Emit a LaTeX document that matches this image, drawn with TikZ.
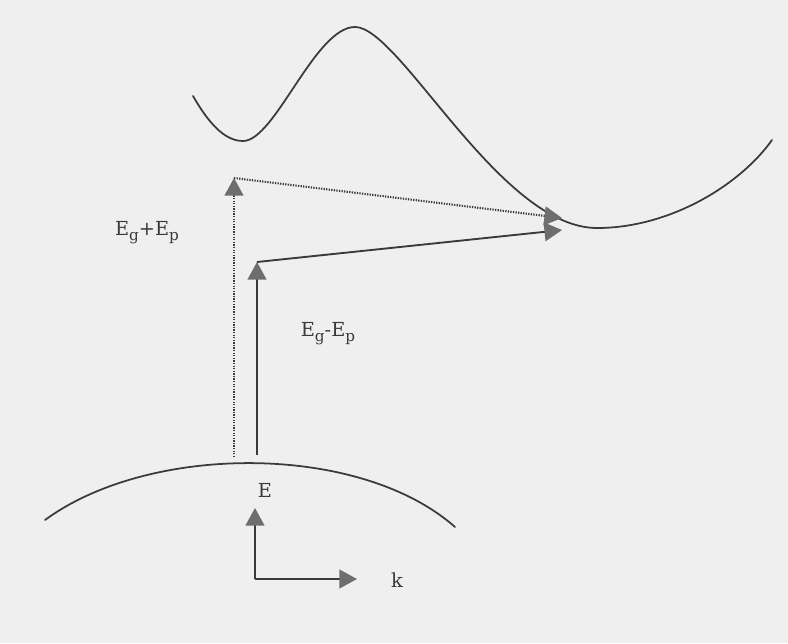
\documentclass[tikz,border=0pt]{standalone}
\usepackage{fontspec}
\setmainfont{DejaVu Serif}
\usetikzlibrary{arrows.meta}
\definecolor{ink}{HTML}{3A3A3A}
\definecolor{headfill}{HTML}{6E6E6E}
\definecolor{paper}{HTML}{EFEFEF}
\newcommand{\mysub}[1]{\raisebox{-0.25em}{\fontsize{13}{13}\selectfont #1}}
\tikzset{
  band/.style={draw=ink, line width=1.5pt, line cap=round},
  tiparrow/.style={-{Triangle[length=15pt,width=16pt,fill=headfill,color=headfill]}},
  solidarrow/.style={draw=ink, line width=1.6pt, tiparrow},
  dotarrow/.style={draw=ink, line width=1.8pt, dash pattern=on 1.1pt off 1.1pt, tiparrow},
  lbl/.style={font=\fontsize{16.5}{20}\selectfont, text=ink, inner sep=1pt}
}
\begin{document}
\begin{tikzpicture}[x=0.03cm,y=-0.03cm]
\fill[paper] (0,0) rectangle (788,643);
\useasboundingbox (0,0) rectangle (788,643);
% conduction band
\draw[band] (193,96) .. controls (208,122) and (224,141) .. (243,141)
  .. controls (275,141) and (315,27) .. (355,27)
  .. controls (400,27) and (500,228) .. (597,228)
  .. controls (670,228) and (740,185) .. (772,140);
% valence band
\draw[band] (45,520) .. controls (150,443) and (360,443) .. (455,527);
% points
\coordinate (vdot) at (234,457);
\coordinate (tdot) at (234,178);
\coordinate (vsol) at (257,455);
\coordinate (tsol) at (257,262);
\coordinate (cmin) at (562,218);
\coordinate (cmin2) at (562,230);
% transitions
\draw[dotarrow] (vdot) -- (tdot);
\draw[dotarrow] (tdot) -- (cmin);
\draw[solidarrow] (vsol) -- (tsol);
\draw[solidarrow] (tsol) -- (cmin2);
% labels
\node[lbl] (lplus) at (147,233) {E\mysub{g}+E\mysub{p}};
\node[lbl] (lminus) at (328,334) {E\mysub{g}-E\mysub{p}};
% axes
\coordinate (orig) at (255,579);
\coordinate (ytip) at (255,508);
\coordinate (xtip) at (357,579);
\draw[solidarrow] (orig) -- (ytip);
\draw[solidarrow] (orig) -- (xtip);
\node[lbl] (lE) at (265,490) {E};
\node[lbl] (lk) at (397,580) {k};
\end{tikzpicture}
\end{document}
